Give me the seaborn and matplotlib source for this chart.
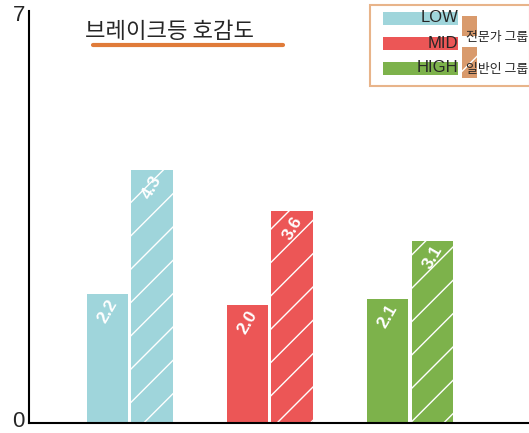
import matplotlib
matplotlib.use("Agg")
import matplotlib.pyplot as plt
import pandas as pd
import seaborn as sns
from matplotlib.patches import Rectangle
from matplotlib.lines import Line2D
from matplotlib.transforms import ScaledTranslation

levels = ["LOW", "MID", "HIGH"]
groups = ["전문가 그룹", "일반인 그룹"]
expert = [2.2, 2.0, 2.1]
public = [4.3, 3.6, 3.1]
level_colors = ["#9fd5db", "#ec5656", "#7db24b"]
legend_orange = "#d99a6c"

df = pd.DataFrame({
    "level": levels * 2,
    "group": [groups[0]] * 3 + [groups[1]] * 3,
    "value": expert + public,
})

sns.set_style("white")
plt.rcParams["font.family"] = ["Noto Sans CJK KR", "DejaVu Sans"]
plt.rcParams["hatch.linewidth"] = 1.0

fig = plt.figure(figsize=(5.29, 4.33), dpi=100)
ax = fig.add_axes([29 / 529, 10 / 433, 1 - 29 / 529, (423 - 11) / 433])

sns.barplot(data=df, x="level", y="value", hue="group", hue_order=groups,
            palette=["gray", "gray"], width=0.64, gap=0.07, legend=False, ax=ax)


def hatch_white(p):
    p.set_hatch("/")
    p.set_edgecolor("white")
    p.set_linewidth(0)
    if hasattr(p, "set_hatchcolor"):
        p.set_hatchcolor("white")


for hi, cont in enumerate(ax.containers):
    for xi, bar in enumerate(cont):
        bar.set_facecolor(level_colors[xi])
        bar.set_edgecolor("none")
        if hi == 1:
            hatch_white(bar)
        h = bar.get_height()
        ax.text(bar.get_x() + bar.get_width() / 2, h - 0.05, f"{h:.1f}",
                rotation=60, color="white", fontsize=12.5, fontweight="bold",
                ha="center", va="top", family="Liberation Sans")

ax.set_ylim(0, 7)
ax.set_xlim(-0.72, 2.85)
ax.set_yticks([0, 7])
ax.set_yticklabels(["0", "7"], fontsize=16, family="Liberation Sans")
ax.set_xticks([])
ax.set_xlabel("")
ax.set_ylabel("")
ax.tick_params(axis="y", length=0, pad=3)
for s in ["top", "right"]:
    ax.spines[s].set_visible(False)
for s in ["left", "bottom"]:
    ax.spines[s].set_color("black")
    ax.spines[s].set_linewidth(1.5)
lab0, lab7 = ax.get_yticklabels()
lab0.set_va("baseline")
lab0.set_transform(lab0.get_transform() + ScaledTranslation(0, -0.04, fig.dpi_scale_trans))
lab7.set_va("top")
lab7.set_transform(lab7.get_transform() + ScaledTranslation(0, 0.06, fig.dpi_scale_trans))

# title with underline
fig.text(85 / 529, 1 - 31 / 433, "브레이크등 호감도", fontsize=16, ha="left", va="center")
fig.add_artist(Line2D([93 / 529, 283 / 529], [1 - 45 / 433] * 2, color="#e07b39", lw=3))


# custom legend
def fx(px):
    return px / 529


def fy(py):
    return 1 - py / 433


fig.add_artist(Rectangle((fx(370), fy(86)), fx(530) - fx(370), fy(5) - fy(86),
                         transform=fig.transFigure, facecolor="white",
                         edgecolor="#e8b48a", lw=1.5))
for i, (lab, col) in enumerate(zip(levels, level_colors)):
    yc = 18 + i * 25
    fig.add_artist(Rectangle((fx(383), fy(yc + 7)), fx(458) - fx(383), fy(yc - 6) - fy(yc + 7),
                             transform=fig.transFigure, facecolor=col, edgecolor="none"))
    fig.text(fx(458), fy(yc), lab, fontsize=12, ha="right", va="center",
             family="Liberation Sans")
fig.add_artist(Rectangle((fx(462), fy(36)), fx(477) - fx(462), fy(16) - fy(36),
                         transform=fig.transFigure, facecolor=legend_orange, edgecolor="none"))
hp = Rectangle((fx(462), fy(78)), fx(477) - fx(462), fy(47) - fy(78),
               transform=fig.transFigure, facecolor=legend_orange)
hatch_white(hp)
fig.add_artist(hp)
fig.text(fx(466), fy(38), groups[0], fontsize=9.3, ha="left", va="center")
fig.text(fx(466), fy(70), groups[1], fontsize=9.3, ha="left", va="center")

fig.savefig("out.png", dpi=100)
